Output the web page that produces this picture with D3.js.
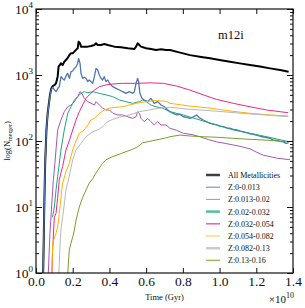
<!DOCTYPE html>
<html>
<head>
<meta charset="utf-8">
<script src="https://cdn.jsdelivr.net/npm/d3@7"></script>
<style>
  body { margin: 0; background: #fff; }
  svg text { font-family: "Liberation Serif", "DejaVu Serif", serif; fill: #111; }
  .axis path, .axis line { stroke: #111; }
</style>
</head>
<body>
<div id="chart"></div>
<script>
// time in units of 1e10 yr, value = number of mergers
var seriesNames = ["All Metallicities", "Z:0-0.013", "Z:0.013-0.02", "Z:0.02-0.032",
    "Z:0.032-0.054", "Z:0.054-0.082", "Z:0.082-0.13", "Z:0.13-0.16"];
var seriesColors = ["#000000", "#4f77b3", "#a557b8", "#1fa67e", "#e7298a", "#ffb300", "#b8b8b8", "#77a02a"];

var allZ = [[0.039,1],[0.042,3],[0.045,10],[0.05,46],[0.057,150],[0.064,270],[0.075,470],[0.082,610],[0.091,680],
    [0.1,700],[0.109,748],[0.118,944],[0.123,1337],[0.136,1504],[0.145,1414],[0.154,1590],[0.163,1687],[0.172,1800],
    [0.182,2010],[0.191,2130],[0.2,2130],[0.209,2260],[0.218,2400],[0.227,2540],[0.232,3200],[0.24,3020],[0.245,2690],
    [0.263,2690],[0.282,2690],[0.3,2755],[0.318,2850],[0.327,3020],[0.336,2850],[0.354,2850],[0.372,2950],[0.391,2850],
    [0.427,2690],[0.463,2630],[0.5,2540],[0.536,2480],[0.545,2690],[0.554,3020],[0.563,2850],[0.572,2690],[0.6,2540],
    [0.626,2480],[0.654,2400],[0.681,2450],[0.708,2400],[0.73,2390],[0.78,2200],[0.839,2000],[0.9,1880],[0.948,1790],
    [1.0,1690],[1.057,1590],[1.11,1500],[1.166,1420],[1.22,1340],[1.275,1260],[1.33,1190],[1.376,1120]];

var z0 = [[0.039,1],[0.042,3],[0.045,10],[0.05,46],[0.057,147],[0.064,263],[0.075,450],[0.082,590],[0.091,650],
    [0.1,600],[0.109,560],[0.118,620],[0.127,665],[0.136,944],[0.145,880],[0.154,840],[0.163,960],[0.172,1060],
    [0.182,891],[0.191,1122],[0.2,1150],[0.209,1260],[0.218,1337],[0.227,1503],[0.232,1780],[0.24,1503],[0.245,1060],
    [0.254,891],[0.263,920],[0.272,891],[0.282,794],[0.29,840],[0.3,790],[0.309,748],[0.318,944],[0.327,1260],
    [0.336,1190],[0.345,1000],[0.354,891],[0.363,840],[0.372,944],[0.381,794],[0.391,840],[0.4,748],[0.418,665],
    [0.436,628],[0.454,593],[0.472,559],[0.49,527],[0.508,559],[0.527,527],[0.536,559],[0.545,748],[0.554,891],
    [0.559,794],[0.566,527],[0.577,443],[0.59,418],[0.608,395],[0.626,443],[0.644,372],[0.663,395],[0.681,351],
    [0.7,330],[0.715,300],[0.73,278],[0.748,262],[0.766,248],[0.784,255],[0.802,233],[0.82,228],[0.839,220],
    [0.857,232],[0.875,248],[0.893,222],[0.911,208],[0.93,196],[0.948,185],[0.966,180],[0.984,175],[1.0,168],
    [1.02,165],[1.04,158],[1.057,156],[1.075,150],[1.093,148],[1.11,142],[1.13,138],[1.148,134],[1.166,128],
    [1.184,126],[1.2,123],[1.22,118],[1.24,115],[1.257,113],[1.275,110],[1.29,104],[1.31,102],[1.33,99],
    [1.347,97],[1.362,92],[1.376,94]];

var z1 = [[0.067,1],[0.076,4],[0.085,10],[0.094,25],[0.103,46],[0.11,80],[0.118,147],[0.136,209],[0.154,278],
    [0.173,330],[0.191,351],[0.209,395],[0.227,470],[0.24,559],[0.25,527],[0.263,443],[0.282,395],[0.3,372],
    [0.318,351],[0.327,395],[0.345,351],[0.363,315],[0.381,295],[0.4,295],[0.418,263],[0.445,248],[0.472,248],
    [0.5,233],[0.527,220],[0.545,233],[0.554,278],[0.563,263],[0.572,220],[0.59,196],[0.608,220],[0.626,196],
    [0.644,175],[0.663,196],[0.681,175],[0.708,175],[0.73,156],[0.766,145],[0.802,131],[0.85,125],[0.893,116],
    [0.94,105],[0.984,97],[1.03,92],[1.075,87],[1.12,82],[1.166,76],[1.2,68],[1.238,61],[1.275,58],[1.311,55],
    [1.383,52]];

var z2 = [[0.09,7],[0.1,10],[0.109,18],[0.118,29],[0.136,73],[0.154,147],[0.173,263],[0.191,330],[0.209,418],
    [0.227,470],[0.245,527],[0.263,559],[0.282,540],[0.309,559],[0.345,527],[0.381,500],[0.418,470],[0.454,418],
    [0.49,395],[0.527,372],[0.563,395],[0.581,418],[0.6,395],[0.626,351],[0.654,330],[0.69,315],[0.73,278],
    [0.802,248],[0.893,208],[0.984,175],[1.075,147],[1.166,131],[1.257,116],[1.374,98]];

var z3 = [[0.087,1],[0.09,2],[0.097,5],[0.1,7],[0.109,8],[0.118,14],[0.127,26],[0.145,41],[0.163,73],[0.181,100],
    [0.2,147],[0.218,209],[0.236,278],[0.254,351],[0.272,443],[0.29,500],[0.318,590],[0.345,665],[0.381,708],
    [0.418,730],[0.472,748],[0.545,748],[0.621,760],[0.693,748],[0.766,680],[0.839,590],[0.911,500],[0.984,427],
    [1.075,372],[1.166,330],[1.257,295],[1.374,268]];

var z4 = [[0.086,1],[0.091,2.8],[0.109,4],[0.118,5],[0.127,8],[0.136,14],[0.145,23],[0.163,34],[0.181,46],
    [0.2,73],[0.218,100],[0.236,131],[0.263,147],[0.282,175],[0.3,209],[0.318,220],[0.345,263],[0.372,295],
    [0.4,315],[0.436,324],[0.472,330],[0.508,351],[0.545,372],[0.6,395],[0.654,410],[0.708,400],[0.73,372],
    [0.839,338],[0.948,315],[1.057,285],[1.166,263],[1.275,248],[1.374,240]];

var z5 = [[0.124,1],[0.127,1.4],[0.131,2.8],[0.136,4.5],[0.145,7],[0.154,11],[0.163,18],[0.181,29],[0.2,52],
    [0.218,73],[0.245,92],[0.272,116],[0.309,138],[0.336,147],[0.363,165],[0.39,196],[0.418,213],[0.454,229],
    [0.49,240],[0.527,257],[0.563,278],[0.617,295],[0.672,315],[0.73,324],[0.839,302],[0.948,288],[1.057,272],
    [1.166,257],[1.275,245],[1.374,233]];

var z6 = [[0.173,1],[0.181,2.2],[0.19,2.8],[0.2,3.5],[0.209,4.5],[0.218,6.3],[0.227,8],[0.236,10],[0.254,14],
    [0.272,18],[0.29,23],[0.309,27],[0.336,36],[0.363,46],[0.381,52],[0.418,58],[0.454,63],[0.49,69],[0.527,75],
    [0.554,82],[0.581,94],[0.636,101],[0.699,110],[0.73,116],[0.784,123],[0.839,119],[0.911,116],[0.984,114],
    [1.075,110],[1.166,106],[1.257,103],[1.374,97]];

var seriesData = [allZ, z0, z1, z2, z3, z4, z5, z6];
var lineWidths = [2, 1.3, 1, 1, 1, 1, 1, 1];
var legendWidths = [2.5, 1.2, 1, 2.5, 1.5, 1, 2.5, 1.5];

var xTicks = [0, 0.2, 0.4, 0.6, 0.8, 1.0, 1.2, 1.4];
var yTicks = [1, 10, 100, 1000, 10000];

var margin = {top: 9, right: 12, bottom: 35, left: 36};
var width = 305 - margin.left - margin.right,
    height = 308 - margin.top - margin.bottom;

var svg = d3.select('#chart')
    .append('svg')
    .attr('width', 305)
    .attr('height', 308)
    .append('g')
    .attr('transform', 'translate(' + margin.left + ',' + margin.top + ')');

var x = d3.scaleLinear().domain([0, 1.4]).range([0, width]);
var y = d3.scaleLog().domain([1, 10000]).range([height, 0]);

var minorTicks = [];
for (var k = 0; k < 4; k++) {
    for (var m = 2; m < 10; m++) minorTicks.push(m * Math.pow(10, k));
}

// clip for lines
svg.append('clipPath').attr('id', 'clip')
    .append('rect').attr('width', width).attr('height', height);

var line = d3.line()
    .x(function(d) { return x(d[0]); })
    .y(function(d) { return y(d[1]); });

seriesData.forEach(function(s, i) {
    svg.append('path')
        .datum(s)
        .attr('fill', 'none')
        .attr('stroke', seriesColors[i])
        .attr('stroke-width', lineWidths[i])
        .attr('stroke-linejoin', 'round')
        .attr('clip-path', 'url(#clip)')
        .attr('d', line);
});

// frame
svg.append('rect')
    .attr('width', width).attr('height', height)
    .attr('fill', 'none').attr('stroke', '#111').attr('stroke-width', 1.2);

// x axes (ticks inward, bottom and top)
svg.append('g').attr('class', 'axis')
    .attr('transform', 'translate(0,' + height + ')')
    .call(d3.axisBottom(x).tickValues(xTicks).tickSize(-5).tickPadding(3)
        .tickFormat(d3.format('.1f')))
    .call(function(g) { g.select('.domain').remove(); })
    .selectAll('text').attr('font-size', 13.5);

svg.append('g').attr('class', 'axis')
    .call(d3.axisTop(x).tickValues(xTicks).tickSize(-5).tickFormat(''))
    .call(function(g) { g.select('.domain').remove(); });

// y axes: major + minor on both sides
svg.append('g').attr('class', 'axis')
    .call(d3.axisLeft(y).tickValues(yTicks).tickSize(-6).tickFormat(''))
    .call(function(g) { g.select('.domain').remove(); });
svg.append('g').attr('class', 'axis')
    .call(d3.axisLeft(y).tickValues(minorTicks).tickSize(-3).tickFormat(''))
    .call(function(g) { g.select('.domain').remove(); });
svg.append('g').attr('class', 'axis')
    .attr('transform', 'translate(' + width + ',0)')
    .call(d3.axisRight(y).tickValues(yTicks).tickSize(-6).tickFormat(''))
    .call(function(g) { g.select('.domain').remove(); });
svg.append('g').attr('class', 'axis')
    .attr('transform', 'translate(' + width + ',0)')
    .call(d3.axisRight(y).tickValues(minorTicks).tickSize(-3).tickFormat(''))
    .call(function(g) { g.select('.domain').remove(); });

// y tick labels 10^k
yTicks.forEach(function(v) {
    var t = svg.append('text')
        .attr('x', -3)
        .attr('y', y(v) + 5)
        .attr('text-anchor', 'end')
        .attr('font-size', 13.5);
    t.append('tspan').text('10');
    t.append('tspan').attr('font-size', 9).attr('dy', -6).text(Math.round(Math.log10(v)));
});

// offset text
var off = svg.append('text')
    .attr('x', width + 1)
    .attr('y', height + 30)
    .attr('text-anchor', 'end')
    .attr('font-size', 11);
off.append('tspan').text('\u00d710');
off.append('tspan').attr('font-size', 8).attr('dy', -5).text('10');

// axis labels
svg.append('text')
    .attr('x', width / 2)
    .attr('y', height + 27)
    .attr('text-anchor', 'middle')
    .attr('font-size', 8.5)
    .text('Time (Gyr)');

var yl = svg.append('text')
    .attr('transform', 'translate(' + (-26) + ',' + (height / 2) + ') rotate(-90)')
    .attr('text-anchor', 'middle')
    .attr('font-size', 8.5);
yl.append('tspan').text('log(N');
yl.append('tspan').attr('font-size', 6).attr('dy', 2).text('merger');
yl.append('tspan').attr('dy', -2).text(')');

// title inside
svg.append('text')
    .attr('x', 182)
    .attr('y', 30)
    .attr('font-size', 12.5)
    .text('m12i');

// legend
var legend = svg.append('g').attr('transform', 'translate(170,166)');
seriesNames.forEach(function(name, i) {
    var row = legend.append('g').attr('transform', 'translate(0,' + (i * 12.2) + ')');
    row.append('line')
        .attr('x1', 0).attr('x2', 14)
        .attr('stroke', seriesColors[i])
        .attr('stroke-opacity', 0.75)
        .attr('stroke-width', legendWidths[i]);
    row.append('text')
        .attr('x', 22)
        .attr('y', 3)
        .attr('font-size', 8)
        .text(name);
});
</script>
</body>
</html>
